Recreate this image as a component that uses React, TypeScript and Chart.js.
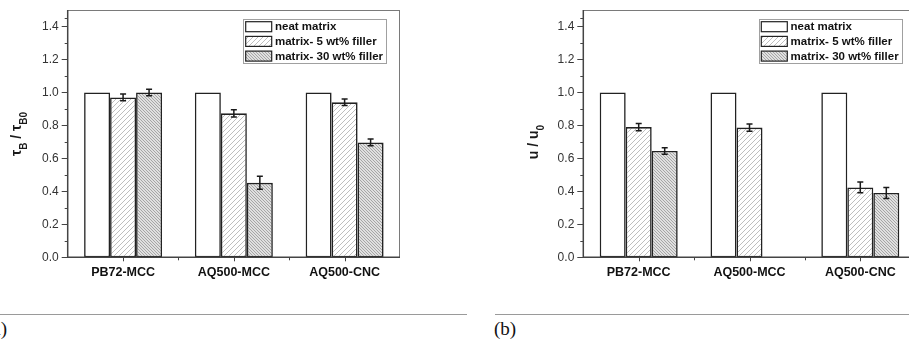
import React, { useEffect, useRef } from "react";
import { Chart, registerables } from "chart.js";
Chart.register(...registerables);

// ---------- data ----------
const categories = ["PB72-MCC", "AQ500-MCC", "AQ500-CNC"];
const seriesLabels = ["neat matrix", "matrix- 5 wt% filler", "matrix- 30 wt% filler"];
const yTicks = [0, 0.2, 0.4, 0.6, 0.8, 1.0, 1.2, 1.4];
const yMax = 1.5;

// panel (a): tau_B / tau_B0
const aNeat = [1.0, 1.0, 1.0];
const a5 = [0.97, 0.873, 0.94];
const a5Err = [0.02, 0.022, 0.02];
const a30 = [1.0, 0.452, 0.697];
const a30Err = [0.02, 0.04, 0.02];

// panel (b): u / u0
const bNeat = [1.0, 1.0, 1.0];
const b5 = [0.79, 0.787, 0.424];
const b5Err = [0.022, 0.022, 0.032];
const b30: (number | null)[] = [0.645, null, 0.39];
const b30Err: (number | null)[] = [0.02, null, 0.033];

const FONT = '"Liberation Sans", Arial, Helvetica, sans-serif';

function makePattern(kind: string): CanvasPattern | string {
  const c = document.createElement("canvas");
  const s = kind === "light" ? 5 : 3;
  c.width = s;
  c.height = s;
  const g = c.getContext("2d")!;
  g.fillStyle = kind === "light" ? "#ffffff" : "#e0e0e0";
  g.fillRect(0, 0, s, s);
  g.strokeStyle = kind === "light" ? "#adadad" : "#8c8c8c";
  g.lineWidth = kind === "light" ? 0.8 : 0.7;
  g.beginPath();
  if (kind === "light") {
    // "/" lines
    g.moveTo(-1, s + 1);
    g.lineTo(s + 1, -1);
    g.moveTo(-1, 1);
    g.lineTo(1, -1);
    g.moveTo(s - 1, s + 1);
    g.lineTo(s + 1, s - 1);
  } else {
    // "\" lines
    g.moveTo(-1, -1);
    g.lineTo(s + 1, s + 1);
    g.moveTo(s - 1, -1);
    g.lineTo(s + 1, 1);
    g.moveTo(-1, s - 1);
    g.lineTo(1, s + 1);
  }
  g.stroke();
  const p = g.createPattern(c, "repeat");
  return p || "#ccc";
}

type TitlePart = { t: string; sub?: boolean };

type PanelProps = {
  left: number;
  width: number;
  height: number;
  areaLeft: number;
  areaRight: number;
  areaTop: number;
  areaBottom: number;
  neat: (number | null)[];
  f5: (number | null)[];
  f5Err: (number | null)[];
  f30: (number | null)[];
  f30Err: (number | null)[];
  title: TitlePart[];
  titleBaseX: number;
  titleCenterY: number;
};

function Panel(p: PanelProps) {
  const ref = useRef<HTMLCanvasElement>(null);
  useEffect(() => {
    const canvas = ref.current!;
    const fills = ["#ffffff", makePattern("light"), makePattern("dense")];

    const decor = {
      id: "decor",
      afterDatasetsDraw(chart: any) {
        const ctx = chart.ctx as CanvasRenderingContext2D;
        const a = chart.chartArea;
        const ys = chart.scales.y;
        const xs = chart.scales.x;
        ctx.save();
        // frame top / right
        ctx.strokeStyle = "#7a7a7a";
        ctx.lineWidth = 1;
        ctx.beginPath();
        ctx.moveTo(a.left, a.top + 0.5);
        ctx.lineTo(a.right, a.top + 0.5);
        ctx.moveTo(a.right - 0.5, a.top);
        ctx.lineTo(a.right - 0.5, a.bottom);
        ctx.stroke();
        // axes
        ctx.strokeStyle = "#444";
        ctx.lineWidth = 1.5;
        ctx.beginPath();
        ctx.moveTo(a.left, a.top);
        ctx.lineTo(a.left, a.bottom);
        ctx.lineTo(a.right, a.bottom);
        ctx.stroke();
        // y ticks
        ctx.lineWidth = 1;
        ctx.beginPath();
        yTicks.forEach((v, i) => {
          const y = Math.round(ys.getPixelForValue(v)) + 0.5;
          ctx.moveTo(a.left - 6, y);
          ctx.lineTo(a.left, y);
          const next = i + 1 < yTicks.length ? yTicks[i + 1] : yMax;
          const m = (v + next) / 2;
          if (m < yMax) {
            const ym = Math.round(ys.getPixelForValue(m)) + 0.5;
            ctx.moveTo(a.left - 3, ym);
            ctx.lineTo(a.left, ym);
          }
        });
        // x ticks
        categories.forEach((_, i) => {
          const x = Math.round(xs.getPixelForValue(i)) + 0.5;
          ctx.moveTo(x, a.bottom);
          ctx.lineTo(x, a.bottom + 4);
          if (i < categories.length - 1) {
            const xb = Math.round(xs.getPixelForValue(i + 0.5)) + 0.5;
            ctx.moveTo(xb, a.bottom);
            ctx.lineTo(xb, a.bottom + 3);
          }
        });
        ctx.stroke();

        // error bars
        ctx.strokeStyle = "#1a1a1a";
        ctx.lineWidth = 1.5;
        chart.data.datasets.forEach((ds: any, di: number) => {
          if (!ds.errors) return;
          const meta = chart.getDatasetMeta(di);
          meta.data.forEach((el: any, i: number) => {
            const v = ds.data[i];
            const e = ds.errors[i];
            if (v == null || e == null) return;
            const x = el.x;
            const y1 = ys.getPixelForValue(v + e);
            const y2 = ys.getPixelForValue(v - e);
            ctx.beginPath();
            ctx.moveTo(x, y1);
            ctx.lineTo(x, y2);
            ctx.moveTo(x - 3, y1);
            ctx.lineTo(x + 3, y1);
            ctx.moveTo(x - 3, y2);
            ctx.lineTo(x + 3, y2);
            ctx.stroke();
          });
        });

        // legend
        const lx = a.left + 175.3;
        const ly = 19;
        ctx.strokeStyle = "#a0a0a0";
        ctx.lineWidth = 1;
        ctx.fillStyle = "#fff";
        ctx.fillRect(lx, ly, 143, 44);
        ctx.strokeRect(Math.round(lx) + 0.5, ly + 0.5, 143, 44);
        chart.data.datasets.forEach((ds: any, i: number) => {
          const sy = 21.7 + i * 14.7;
          ctx.fillStyle = ds.backgroundColor;
          ctx.fillRect(lx + 2.7, sy, 26, 10);
          ctx.strokeStyle = "#222";
          ctx.lineWidth = 1.2;
          ctx.strokeRect(lx + 2.7, sy, 26, 10);
          ctx.fillStyle = "#111";
          ctx.font = "bold 11.5px " + FONT;
          ctx.textBaseline = "middle";
          ctx.textAlign = "left";
          ctx.fillText(ds.label, lx + 32, sy + 5.5);
        });

        // y title with subscripts
        const mainFont = "bold 14px " + FONT;
        const subFont = "bold 10px " + FONT;
        let total = 0;
        const widths = p.title.map((t) => {
          ctx.font = t.sub ? subFont : mainFont;
          const w = ctx.measureText(t.t).width;
          total += w;
          return w;
        });
        ctx.translate(p.titleBaseX, p.titleCenterY);
        ctx.rotate(-Math.PI / 2);
        ctx.textBaseline = "alphabetic";
        ctx.textAlign = "left";
        ctx.fillStyle = "#1a1a1a";
        let x = -total / 2;
        p.title.forEach((t, i) => {
          ctx.font = t.sub ? subFont : mainFont;
          ctx.fillText(t.t, x, t.sub ? 6.5 : 0);
          x += widths[i];
        });
        ctx.restore();
      },
    };

    const mk = (label: string, data: any[], fill: any, errors: any) => ({
      label,
      data,
      backgroundColor: fill,
      borderColor: "#222",
      borderWidth: 1.6,
      borderSkipped: false,
      errors,
    });

    const chart = new Chart(canvas, {
      type: "bar",
      data: {
        labels: categories,
        datasets: [
          mk(seriesLabels[0], p.neat, fills[0], null),
          mk(seriesLabels[1], p.f5, fills[1], p.f5Err),
          mk(seriesLabels[2], p.f30, fills[2], p.f30Err),
        ] as any,
      },
      options: {
        animation: false,
        responsive: false,
        devicePixelRatio: 1,
        categoryPercentage: 0.704,
        barPercentage: 1.0,
        layout: {
          padding: {
            left: 0,
            top: p.areaTop,
            right: p.width - p.areaRight,
            bottom: 0,
          },
        },
        plugins: {
          legend: { display: false },
          tooltip: { enabled: false },
        },
        scales: {
          x: {
            type: "category",
            offset: true,
            grid: { display: false, drawTicks: false },
            border: { display: false },
            ticks: {
              font: { family: FONT, size: 12.5, weight: "bold" },
              color: "#111",
              padding: 8,
              maxRotation: 0,
              autoSkip: false,
            },
            afterFit: (s: any) => {
              s.height = p.height - p.areaBottom;
              s.paddingLeft = 0;
              s.paddingRight = 0;
              s.paddingTop = 0;
              s.paddingBottom = 0;
            },
          },
          y: {
            type: "linear",
            min: 0,
            max: yMax,
            grid: { display: false, drawTicks: false },
            border: { display: false },
            ticks: {
              font: { family: FONT, size: 12 },
              color: "#333",
              padding: 9,
              callback: (v: any) => Number(v).toFixed(1),
            },
            afterBuildTicks: (s: any) => {
              s.ticks = yTicks.map((v) => ({ value: v }));
            },
            afterFit: (s: any) => {
              s.width = p.areaLeft;
              s.paddingTop = 0;
              s.paddingBottom = 0;
              s.paddingLeft = 0;
              s.paddingRight = 0;
            },
          },
        },
      } as any,
      plugins: [decor],
    });
    return () => chart.destroy();
  }, []);
  return (
    <canvas
      ref={ref}
      width={p.width}
      height={p.height}
      style={{ position: "absolute", left: p.left, top: 0, width: p.width, height: p.height }}
    />
  );
}

const capStyle: React.CSSProperties = {
  position: "absolute",
  fontFamily: '"Liberation Serif", "Times New Roman", serif',
  fontSize: 19,
  lineHeight: "19px",
  color: "#111",
  whiteSpace: "nowrap",
};

export default function App() {
  return (
    <div
      style={{
        position: "absolute",
        left: 0,
        top: 0,
        width: 909,
        height: 345,
        overflow: "hidden",
        background: "#fff",
      }}
    >
      <Panel
        left={0}
        width={460}
        height={300}
        areaLeft={67.7}
        areaRight={400}
        areaTop={10}
        areaBottom={257.3}
        neat={aNeat}
        f5={a5}
        f5Err={a5Err}
        f30={a30}
        f30Err={a30Err}
        title={[
          { t: "τ" },
          { t: "B", sub: true },
          { t: " / τ" },
          { t: "B0", sub: true },
        ]}
        titleBaseX={20.5}
        titleCenterY={134}
      />
      <Panel
        left={460}
        width={500}
        height={300}
        areaLeft={123.3}
        areaRight={455.7}
        areaTop={10}
        areaBottom={257.3}
        neat={bNeat}
        f5={b5}
        f5Err={b5Err}
        f30={b30}
        f30Err={b30Err}
        title={[{ t: "u / u" }, { t: "0", sub: true }]}
        titleBaseX={77.7}
        titleCenterY={142}
      />
      <div style={{ position: "absolute", left: 0, top: 314, width: 467, height: 1, background: "#9a9a9a" }} />
      <div style={{ position: "absolute", left: 495, top: 314, width: 414, height: 1, background: "#9a9a9a" }} />
      <div style={{ ...capStyle, left: -100, width: 107, textAlign: "right", top: 318.6 }}>(a)</div>
      <div style={{ ...capStyle, left: 494, top: 318.6 }}>(b)</div>
    </div>
  );
}
